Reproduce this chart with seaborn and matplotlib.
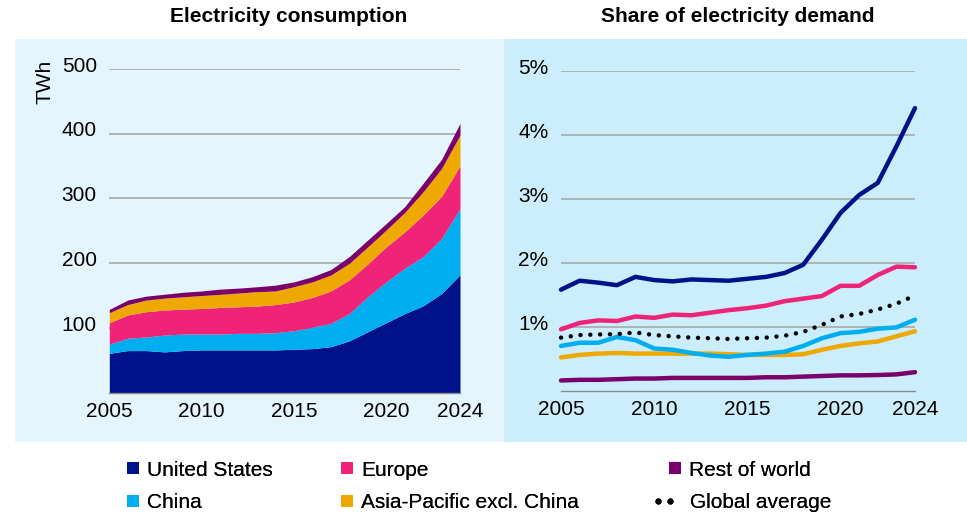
import numpy as np
import pandas as pd
import matplotlib
matplotlib.use('Agg')
import matplotlib.pyplot as plt
import matplotlib.transforms as mtransforms
import seaborn as sns
from matplotlib.patches import Rectangle
from matplotlib.lines import Line2D
from matplotlib.legend_handler import HandlerLine2D

# Data centre electricity consumption (TWh) and share of demand (%)
years = list(range(2005, 2025))

us_twh = [60.7, 65, 65, 63, 65, 66, 66, 66, 66, 66, 67, 68, 71, 80, 94, 108, 122, 134, 153, 182]
china_twh = [14.3, 19, 21, 26, 25.5, 24.5, 24.5, 25.6, 25.6, 26.6, 28.7, 33, 36, 42, 54, 63, 70, 76, 85, 102]
europe_twh = [33, 36, 39, 38.6, 38.5, 39.5, 41, 41, 42, 43.4, 44.3, 46, 50, 52, 50.6, 54, 56, 64, 65, 66]
apac_twh = [15.5, 16, 18, 18.4, 19, 20, 20.3, 21.3, 22.3, 21, 23.6, 24, 24.6, 25.6, 26.4, 26, 30, 36, 43, 47.6]
row_twh = [5.1, 7, 6, 6, 7, 7, 8, 7.5, 7.6, 9, 7.4, 8, 8.4, 10.4, 10.6, 10, 9, 13, 14, 18]

us_share = [1.58, 1.72, 1.69, 1.65, 1.78, 1.73, 1.71, 1.74, 1.73, 1.72, 1.75, 1.78, 1.84, 1.97,
            2.36, 2.78, 3.06, 3.25, 3.82, 4.42]
europe_share = [0.96, 1.06, 1.10, 1.09, 1.16, 1.14, 1.19, 1.18, 1.22, 1.26, 1.29, 1.33, 1.40, 1.44,
                1.48, 1.64, 1.64, 1.81, 1.94, 1.93]
china_share = [0.70, 0.75, 0.75, 0.84, 0.79, 0.66, 0.64, 0.59, 0.55, 0.53, 0.56, 0.58, 0.61, 0.70,
               0.82, 0.90, 0.92, 0.97, 0.99, 1.11]
apac_share = [0.52, 0.56, 0.58, 0.59, 0.58, 0.58, 0.58, 0.58, 0.58, 0.57, 0.56, 0.56, 0.56, 0.57,
              0.64, 0.70, 0.74, 0.77, 0.85, 0.93]
row_share = [0.16, 0.17, 0.17, 0.18, 0.19, 0.19, 0.20, 0.20, 0.20, 0.20, 0.20, 0.21, 0.21, 0.22,
             0.23, 0.24, 0.24, 0.245, 0.255, 0.29]
global_share = [0.83, 0.87, 0.88, 0.885, 0.91, 0.87, 0.85, 0.83, 0.82, 0.81, 0.82, 0.83, 0.86, 0.92,
                1.03, 1.16, 1.20, 1.27, 1.36, 1.49]

regions = ['United States', 'China', 'Europe', 'Asia-Pacific excl. China', 'Rest of world']
colors = {'United States': '#00128a', 'China': '#00aeef', 'Europe': '#ef2377',
          'Asia-Pacific excl. China': '#eea800', 'Rest of world': '#7a006b'}

W, H = 967, 514
LEFT_BG = '#e5f5fd'
RIGHT_BG = '#ccedfc'
GRID = '#a8a8a8'

sns.set_style('white')
plt.rcParams['font.family'] = ['Liberation Sans', 'DejaVu Sans']
plt.rcParams['text.color'] = 'black'
plt.rcParams['xtick.color'] = 'black'
plt.rcParams['ytick.color'] = 'black'

fig = plt.figure(figsize=(W / 100, H / 100), dpi=100)

# panel backgrounds, kept under the axes
fig.patches.append(Rectangle((15 / W, 72 / H), 488.5 / W, 403.3 / H, transform=fig.transFigure,
                             facecolor=LEFT_BG, edgecolor='none', zorder=-5))
fig.patches.append(Rectangle((503.5 / W, 72 / H), 463.5 / W, 403.3 / H, transform=fig.transFigure,
                             facecolor=RIGHT_BG, edgecolor='none', zorder=-5))


def style_axis(ax):
    ax.set_facecolor('none')
    for s in ['top', 'right', 'left']:
        ax.spines[s].set_visible(False)
    ax.spines['bottom'].set_color('#8a8a8a')
    ax.spines['bottom'].set_linewidth(1)
    ax.grid(axis='y', color=GRID, lw=1.2)
    ax.grid(axis='x', visible=False)
    ax.set_axisbelow(True)
    ax.tick_params(length=0, labelsize=15, colors='black')
    ax.tick_params(axis='y', pad=9)
    ax.tick_params(axis='x', pad=7)
    ax.set_xticks([2005, 2010, 2015, 2020, 2024])
    ax.set_xlim(2005, 2024)
    ax.set_xlabel('')
    ax.set_ylabel('')
    # y labels sit a little above their gridlines
    lift = mtransforms.ScaledTranslation(0, 4.5 / 100, fig.dpi_scale_trans)
    for lab in ax.get_yticklabels():
        lab.set_transform(lab.get_transform() + lift)


# left: stacked consumption
ax1 = fig.add_axes([109.3 / W, (H - 392.7) / H, 350.7 / W, 324 / H])
ax1.stackplot(years, us_twh, china_twh, europe_twh, apac_twh, row_twh,
              colors=[colors[r] for r in regions], lw=0)
ax1.set_ylim(0, 500)
ax1.set_yticks([100, 200, 300, 400, 500])
style_axis(ax1)

# right: share of demand
share = pd.DataFrame({'year': years, 'United States': us_share, 'China': china_share,
                      'Europe': europe_share, 'Asia-Pacific excl. China': apac_share,
                      'Rest of world': row_share})
share_long = share.melt(id_vars='year', var_name='region', value_name='share')

ax2 = fig.add_axes([561 / W, (H - 390.7) / H, 354 / W, 319.7 / H])
sns.lineplot(data=share_long, x='year', y='share', hue='region', hue_order=regions[::-1],
             palette=colors, lw=3.2, legend=False, ax=ax2, clip_on=False)
sns.lineplot(x=years, y=global_share, color='black', lw=3.2, ls=(0, (0.01, 2.2)),
             dash_capstyle='round', ax=ax2, clip_on=False)
ax2.set_ylim(0, 5)
ax2.set_yticks([1, 2, 3, 4, 5])
ax2.set_yticklabels([f'{v}%' for v in [1, 2, 3, 4, 5]])
style_axis(ax2)

# titles and unit
fig.text(289 / W, 1 - 17 / H, 'Electricity consumption', ha='center', va='center',
         fontsize=15, fontweight='bold')
fig.text(738 / W, 1 - 17 / H, 'Share of electricity demand', ha='center', va='center',
         fontsize=15, fontweight='bold')
fig.text(45 / W, 1 - 82 / H, 'TWh', rotation=90, ha='center', va='center', fontsize=15)


# legend, one key per entry so each sits where it does in the original
def add_key(handle, label, x, y, hl=0.6, tp=0.35, hmap=None):
    leg = fig.legend([handle], [label], loc='center left', bbox_to_anchor=(x / W, 1 - y / H),
                     frameon=False, fontsize=15, handlelength=hl, handletextpad=tp,
                     borderpad=0, borderaxespad=0, handler_map=hmap)
    fig.add_artist(leg)


def square(c):
    return Line2D([], [], ls='none', marker='s', markersize=8.8, markerfacecolor=c,
                  markeredgewidth=0)


add_key(square(colors['United States']), 'United States', 127, 470)
add_key(square(colors['China']), 'China', 127, 503)
add_key(square(colors['Europe']), 'Europe', 341, 470)
add_key(square(colors['Asia-Pacific excl. China']), 'Asia-Pacific excl. China', 341, 503)
add_key(square(colors['Rest of world']), 'Rest of world', 669, 470)
dots = Line2D([], [], ls='none', marker='o', markersize=3.4, color='black')
add_key(dots, 'Global average', 652, 503, hl=1.15, tp=0.67,
        hmap={dots: HandlerLine2D(numpoints=2, marker_pad=0.29)})

fig.savefig('out.png', dpi=100)
